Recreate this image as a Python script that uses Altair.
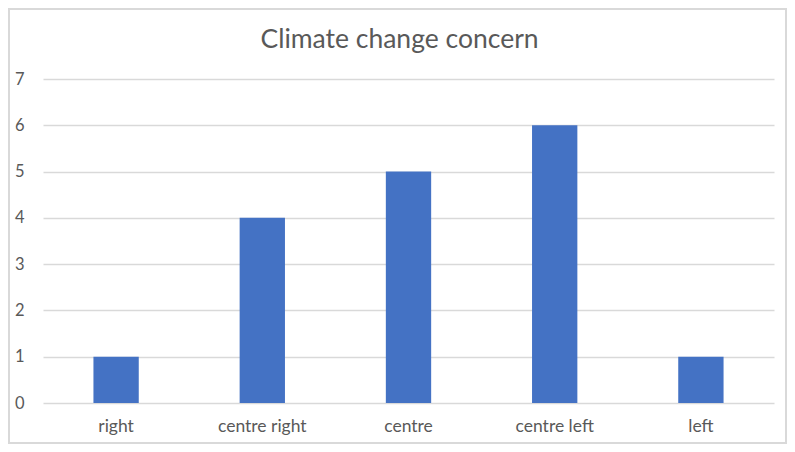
import altair as alt
import pandas as pd

categories = ["right", "centre right", "centre", "centre left", "left"]
values = [1, 4, 5, 6, 1]
y_ticks = [0, 1, 2, 3, 4, 5, 6, 7]

df = pd.DataFrame({"category": categories, "value": values})

FONT = "Lato"
TXT = "#595959"

bars = alt.Chart(df).mark_bar(color="#4472C4").encode(
    x=alt.X("category:N", sort=categories,
            scale=alt.Scale(paddingInner=0.69, paddingOuter=0.345),
            axis=alt.Axis(title=None, labelAngle=0, ticks=False, domain=False,
                          labelPadding=14, labelFontSize=17.5, labelColor=TXT,
                          labelFont=FONT, grid=False)),
    y=alt.Y("value:Q", scale=alt.Scale(domain=[0, 7], nice=False),
            axis=alt.Axis(title=None, values=y_ticks, ticks=False, domain=False,
                          labelPadding=19, labelFontSize=16.5, labelColor=TXT,
                          labelFont=FONT, gridColor="#d9d9d9", gridWidth=1.3)),
)

border = alt.Chart(df).mark_rect(fill=None, stroke="#d9d9d9", strokeWidth=1.5).encode(
    x=alt.value(-34), x2=alt.value(743), y=alt.value(-70), y2=alt.value(364)
)

chart = alt.layer(border, bars).properties(
    width=731,
    height=324,
    title=alt.Title("Climate change concern", fontSize=26.5, font=FONT,
                    color=TXT, fontWeight="normal", anchor="middle",
                    baseline="alphabetic", offset=-66, dx=-9),
    autosize="none",
    padding={"left": 35, "top": 71, "right": 13, "bottom": 41},
).configure_view(stroke=None)

chart.save("out.html", embed_options={"renderer": "svg", "actions": False})
